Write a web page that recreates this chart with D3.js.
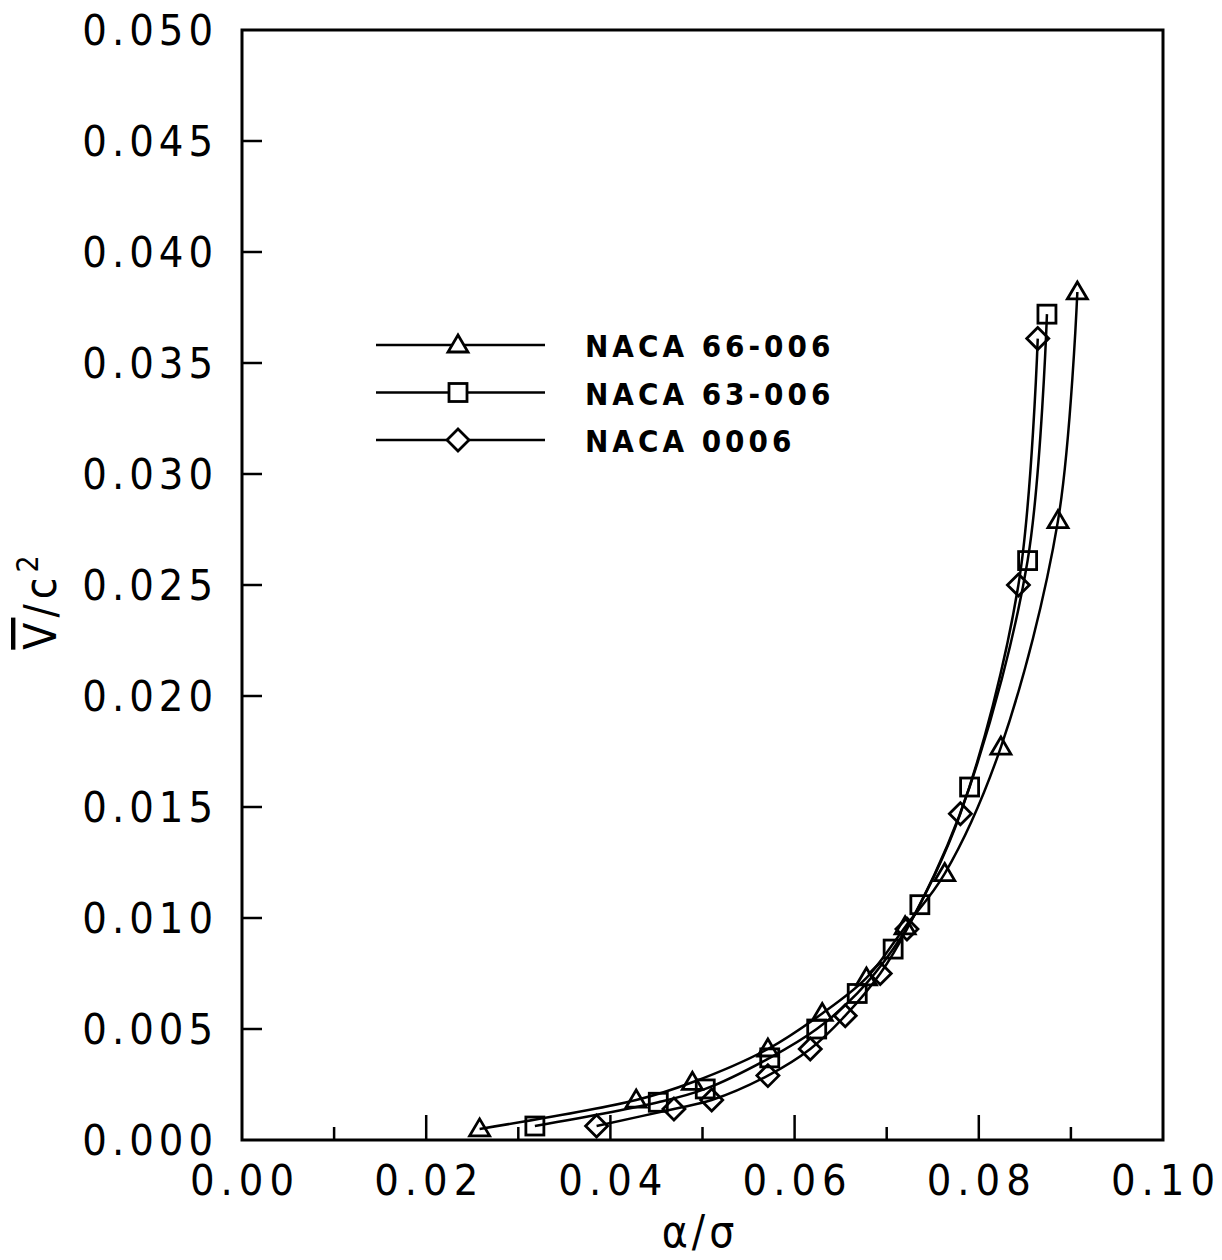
<!DOCTYPE html>
<html>
<head>
<meta charset="utf-8">
<script src="https://cdn.jsdelivr.net/npm/d3@7"></script>
<style>
  body { margin: 0; background: #fff; }
  text { font-family: "DejaVu Sans Condensed", "DejaVu Sans", sans-serif; fill: #000; }
</style>
</head>
<body>
<svg id="chart" width="1222" height="1260"></svg>
<script>
// values
const naca66x = [0.0258, 0.0428, 0.0489, 0.0571, 0.0630, 0.0678, 0.0720, 0.0763, 0.0824, 0.0886, 0.0907];
const naca66y = [0.0005, 0.0018, 0.0026, 0.0041, 0.0057, 0.0073, 0.0096, 0.0120, 0.0177, 0.0279, 0.0382];

const naca63x = [0.0318, 0.0452, 0.0503, 0.0573, 0.0624, 0.0668, 0.0707, 0.0736, 0.0790, 0.0853, 0.0874];
const naca63y = [0.00063, 0.0017, 0.0023, 0.0037, 0.0050, 0.0066, 0.0086, 0.0106, 0.0159, 0.0261, 0.0372];

const naca0006x = [0.0385, 0.0469, 0.0510, 0.0571, 0.0617, 0.0655, 0.0693, 0.0722, 0.0780, 0.0843, 0.0864];
const naca0006y = [0.00063, 0.0014, 0.0018, 0.0029, 0.0041, 0.0056, 0.0075, 0.0095, 0.0147, 0.0250, 0.0361];

const seriesNames = ["NACA 66-006", "NACA 63-006", "NACA 0006"];
const xTicks = ["0.00", "0.02", "0.04", "0.06", "0.08", "0.10"];
const yTicks = ["0.000", "0.005", "0.010", "0.015", "0.020", "0.025", "0.030", "0.035", "0.040", "0.045", "0.050"];

const margin = {top: 30, right: 59, bottom: 120, left: 242};
const width = 1222 - margin.left - margin.right,
      height = 1260 - margin.top - margin.bottom;

const svg = d3.select("#chart");
const g = svg.append("g").attr("transform", `translate(${margin.left},${margin.top})`);

const x = d3.scaleLinear().domain([0, 0.10]).range([0, width]);
const y = d3.scaleLinear().domain([0, 0.050]).range([height, 0]);

// frame
g.append("rect").attr("width", width).attr("height", height)
  .attr("fill", "none").attr("stroke", "#000").attr("stroke-width", 3);

// x ticks, inward, minor every 0.01
g.append("g").selectAll("line")
  .data(d3.range(1, 10))
  .join("line")
    .attr("x1", d => x(d / 100)).attr("x2", d => x(d / 100))
    .attr("y1", height).attr("y2", d => height - (d % 2 === 0 ? 25 : 13))
    .attr("stroke", "#000").attr("stroke-width", 2.5);

g.append("g").selectAll("text")
  .data(xTicks)
  .join("text")
    .attr("x", d => x(+d) + 3)
    .attr("y", height + 55)
    .attr("text-anchor", "middle")
    .attr("font-size", 43)
    .attr("letter-spacing", 6)
    .text(d => d);

// y ticks, inward
g.append("g").selectAll("line")
  .data(yTicks.slice(1, -1))
  .join("line")
    .attr("x1", 0).attr("x2", 20)
    .attr("y1", d => y(+d)).attr("y2", d => y(+d))
    .attr("stroke", "#000").attr("stroke-width", 2.5);

g.append("g").selectAll("text")
  .data(yTicks)
  .join("text")
    .attr("x", -24)
    .attr("y", d => y(+d) + 15)
    .attr("text-anchor", "end")
    .attr("font-size", 43)
    .attr("letter-spacing", 5)
    .text(d => d);

// axis titles
svg.append("text")
  .attr("x", 700).attr("y", 1247)
  .attr("text-anchor", "middle")
  .attr("font-size", 44)
  .attr("letter-spacing", 4)
  .text("α/σ");

const yt = svg.append("text")
  .attr("transform", "translate(56,600) rotate(-90)")
  .attr("text-anchor", "middle")
  .attr("font-size", 44)
  .attr("letter-spacing", 5);
yt.append("tspan").text("V").attr("text-decoration", "overline");
yt.append("tspan").text("/c");
yt.append("tspan").text("2").attr("font-size", 30).attr("dy", -18);

// markers
function triangle(sel) {
  return sel.append("path").attr("d", "M-10,7L10,7L0,-10Z");
}
function square(sel) {
  return sel.append("rect").attr("x", -9).attr("y", -9).attr("width", 18).attr("height", 18);
}
function diamond(sel) {
  return sel.append("path").attr("d", "M0,-11L11,0L0,11L-11,0Z");
}

const series = [
  {name: seriesNames[0], xs: naca66x, ys: naca66y, mark: triangle},
  {name: seriesNames[1], xs: naca63x, ys: naca63y, mark: square},
  {name: seriesNames[2], xs: naca0006x, ys: naca0006y, mark: diamond}
];

const line = d3.line()
  .x(d => x(d[0])).y(d => y(d[1]))
  .curve(d3.curveCatmullRom.alpha(0.5));

series.forEach(s => {
  const pts = s.xs.map((v, i) => [v, s.ys[i]]);
  g.append("path").datum(pts)
    .attr("d", line)
    .attr("fill", "none").attr("stroke", "#000").attr("stroke-width", 2.5);
  pts.forEach(p => {
    const m = g.append("g").attr("transform", `translate(${x(p[0])},${y(p[1])})`);
    s.mark(m).attr("fill", "none").attr("stroke", "#000").attr("stroke-width", 2.8);
  });
});

// legend
const legend = svg.append("g");
series.forEach((s, i) => {
  const ly = 345 + i * 47.5;
  legend.append("line")
    .attr("x1", 376).attr("x2", 545).attr("y1", ly).attr("y2", ly)
    .attr("stroke", "#000").attr("stroke-width", 2.5);
  const m = legend.append("g").attr("transform", `translate(458,${ly})`);
  s.mark(m).attr("fill", "#fff").attr("stroke", "#000").attr("stroke-width", 2.8);
  legend.append("text")
    .attr("x", 585).attr("y", ly + 12)
    .attr("font-size", 31)
    .attr("font-weight", "bold")
    .attr("letter-spacing", 4)
    .text(s.name);
});
</script>
</body>
</html>
